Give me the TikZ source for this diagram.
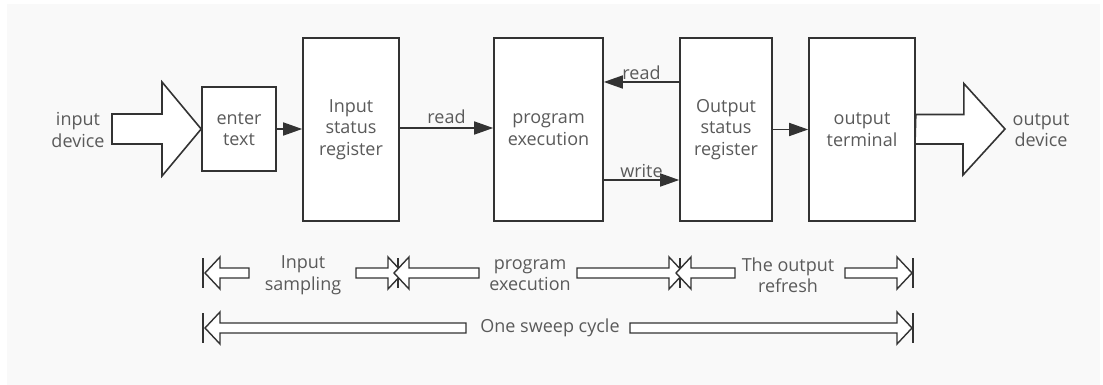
\documentclass[tikz,border=0pt]{standalone}
\usepackage{fontspec}
\setmainfont{Open Sans}
\usetikzlibrary{arrows.meta,calc}
\definecolor{ink}{HTML}{333333}
\definecolor{txt}{HTML}{5A5A5A}
\definecolor{paper}{HTML}{F9F9F9}
\tikzset{
  block/.style={draw=ink, line width=1.6pt, fill=white, inner sep=0pt,
    align=center, text=txt, font=\fontsize{18}{21.5}\selectfont},
  lbl/.style={text=txt, font=\fontsize{18}{21.5}\selectfont, align=center, inner sep=0pt},
  flow/.style={draw=ink, line width=1.6pt, -{Triangle[length=19pt,width=13pt]}},
  hollow/.style={draw=ink, line width=1.4pt, fill=white, line join=miter},
  bar/.style={draw=ink, line width=1.6pt}
}
\begin{document}
\begin{tikzpicture}[x=1pt,y=-1pt]
  \useasboundingbox (0,0) rectangle (1103,385);
  \fill[paper] (7,4) rectangle (1100,385);

  % main blocks
  \node[block, minimum width=74pt, minimum height=84pt] (enter) at (239,129) {enter\\text};
  \node[block, minimum width=96pt, minimum height=183pt] (isr) at (351,129.5) {Input\\status\\register};
  \node[block, minimum width=109pt, minimum height=183pt] (prog) at (548.5,129.5) {program\\execution};
  \node[block, minimum width=92pt, minimum height=183pt] (osr) at (726,129.5) {Output\\status\\register};
  \node[block, minimum width=106pt, minimum height=183pt] (outt) at (862,129.5) {output\\terminal};

  % devices
  \node[lbl] (indev) at (78,130) {input\\device};
  \node[lbl] (outdev) at (1041,130) {output\\device};

  % wide input / output arrows
  \draw[hollow, line width=1.6pt] (112,114) -- (162,114) -- (162,82) -- (enter.west) -- (162,176)
     -- (162,144) -- (112,144) -- cycle;
  \draw[hollow, line width=1.6pt] ([yshift=15pt]outt.east) -- ++(48,0) -- ++(0,-31) -- (1005,129)
     -- ++(-42,46) -- ++(0,-31) -- ++(-48,0) -- cycle;

  % signal arrows
  \draw[flow] (enter.east) -- (isr.west |- enter.east);
  \draw[flow] (isr.east |- 0,128) -- node[lbl, above=4pt] (r1) {read} (prog.west |- 0,128);
  \draw[flow] (osr.west |- 0,82) -- node[lbl, above=2pt] (r2) {read} (prog.east |- 0,82);
  \draw[flow] (prog.east |- 0,180) -- node[lbl, above=2pt] (w1) {write} (osr.west |- 0,180);
  \draw[flow] (osr.east) -- (outt.west);

  % phase labels
  \node[lbl] (ph1) at (303,275) {Input\\sampling};
  \node[lbl] (ph2) at (530,275) {program\\execution};
  \node[lbl] (ph3) at (788,275) {The output\\refresh};
  \node[lbl] (ph4) at (550,328) {One sweep cycle};

  % boundary bars
  \coordinate (b0) at (203,273);
  \coordinate (b1) at (398,273);
  \coordinate (b2) at (680,273);
  \coordinate (b3) at (913,273);
  \coordinate (c0) at (203,328);
  \coordinate (c3) at (913,328);
  \foreach \b in {b0,b1,b2,b3,c0,c3}
    \draw[bar] (\b) ++(0,-15) -- ++(0,30);

  % hollow span arrows: left-pointing (tip, tail) and right-pointing (tail, tip)
  \def\larr#1#2{\draw[hollow] (#1) -- ++(15,-16) -- ++(0,11) -- ($(#2)+(0,-5)$) -- ++(0,10) -- ($(#1)+(15,5)$) -- ++(0,11) -- cycle;}
  \def\rarr#1#2{\draw[hollow] (#2) -- ++(-15,-16) -- ++(0,11) -- ($(#1)+(0,-5)$) -- ++(0,10) -- ($(#2)+(-15,5)$) -- ++(0,11) -- cycle;}
  \coordinate (t1) at (205,273);   \coordinate (s1) at (249,273);
  \coordinate (s2) at (356,273);   \coordinate (t2) at (403,273);
  \coordinate (t3) at (394,273);   \coordinate (s3) at (479,273);
  \coordinate (s4) at (577,273);   \coordinate (t4) at (684,273);
  \coordinate (t5) at (676,273);   \coordinate (s5) at (735,273);
  \coordinate (s6) at (845,273);   \coordinate (t6) at (912,273);
  \coordinate (t7) at (205,328);   \coordinate (s7) at (466,328);
  \coordinate (s8) at (630,328);   \coordinate (t8) at (912,328);
  \larr{t1}{s1} \rarr{s2}{t2} \larr{t3}{s3} \rarr{s4}{t4}
  \larr{t5}{s5} \rarr{s6}{t6} \larr{t7}{s7} \rarr{s8}{t8}
\end{tikzpicture}
\end{document}
